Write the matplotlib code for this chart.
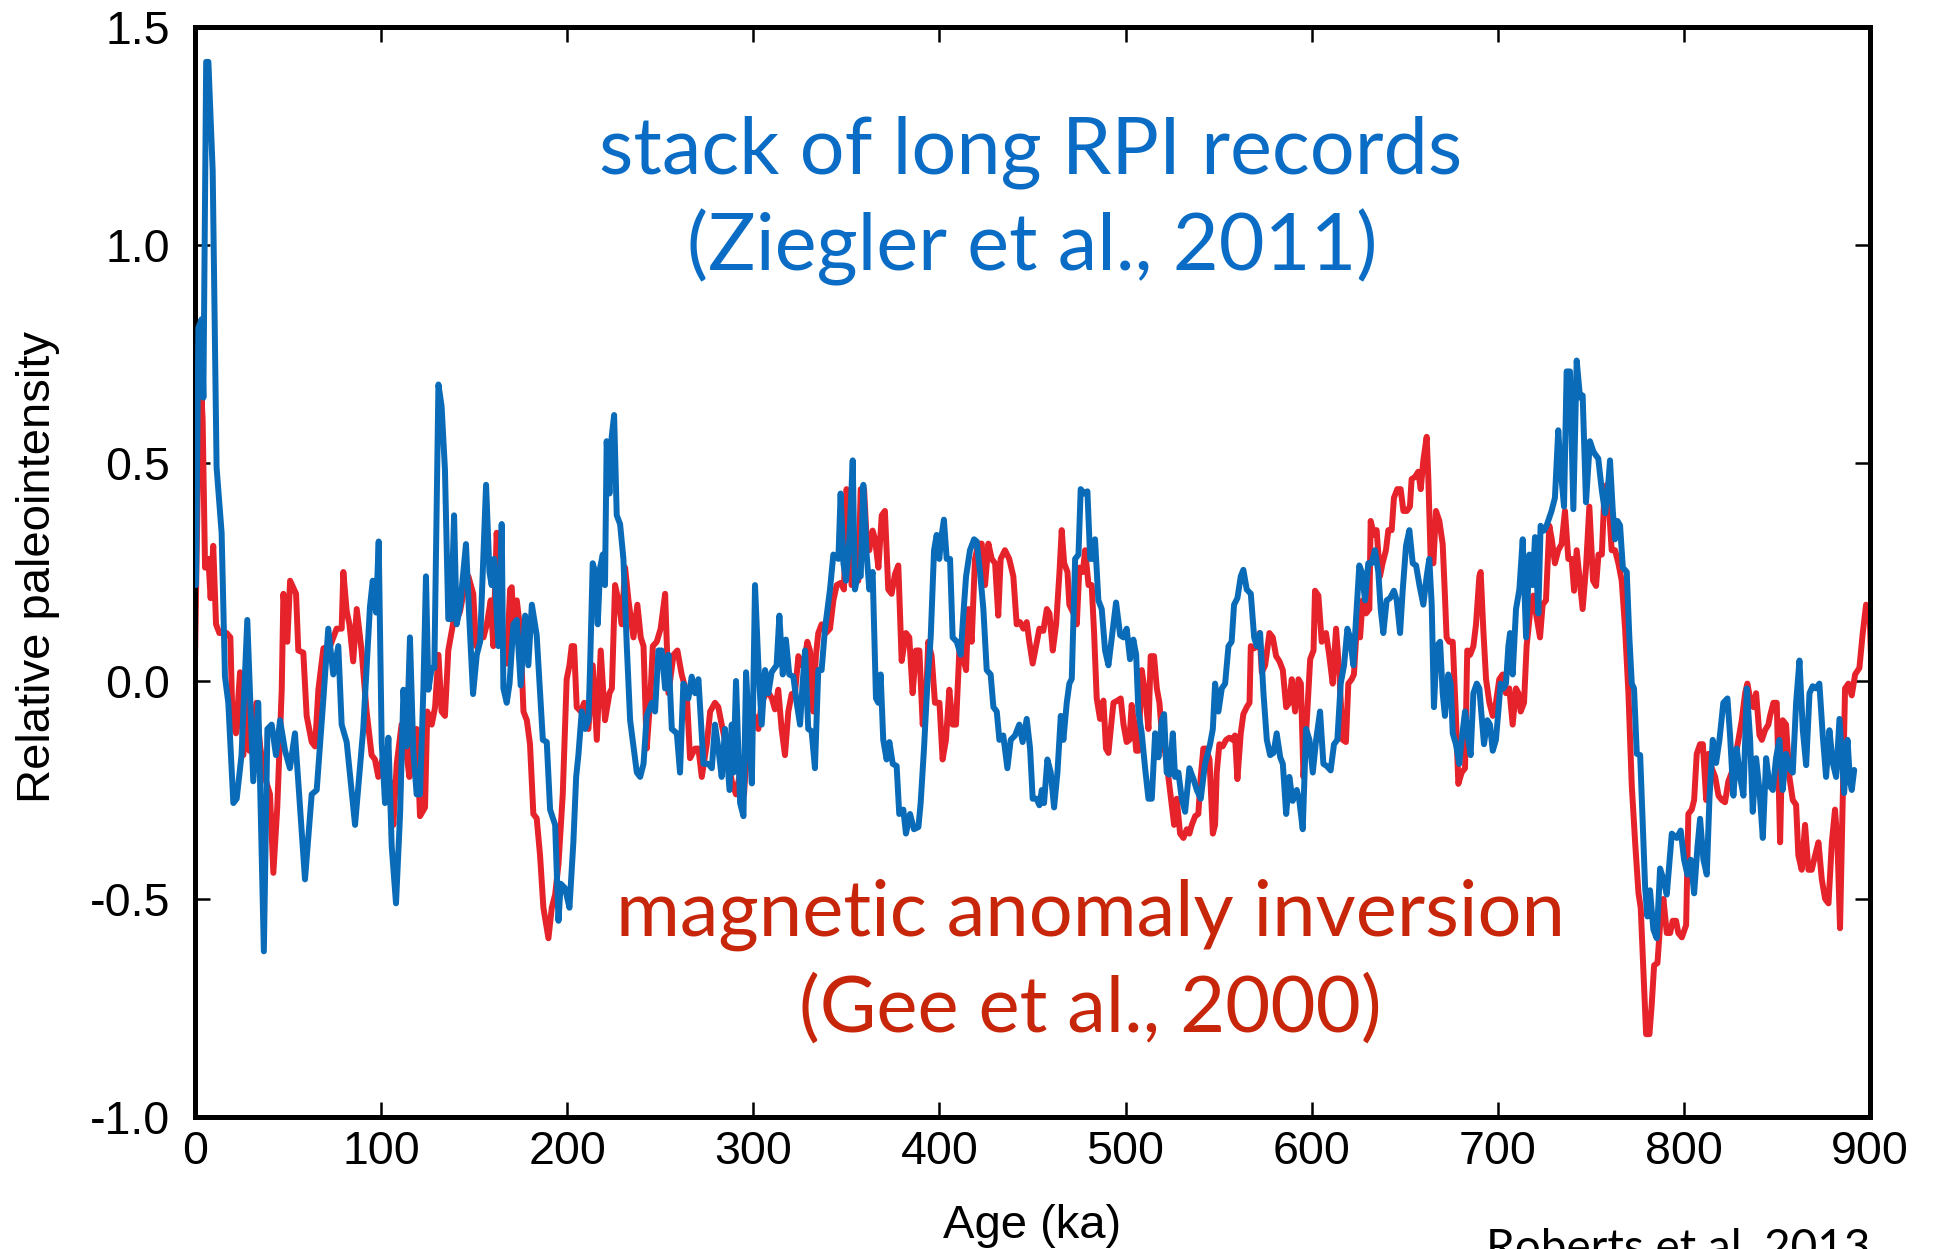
import numpy as np
import matplotlib
matplotlib.use("Agg")
import matplotlib.pyplot as plt

# Ziegler et al. (2011) stack of long RPI records: (age ka, relative paleointensity)
stack_ziegler = [
    (0.5, 0.22), (1.8, 0.81), (3.6, 0.83), (4.5, 0.65), (6.0, 1.42), (7.2, 1.42), (9.5, 1.17),
    (11.6, 0.49), (14.3, 0.34), (16.1, 0.01), (17.9, -0.05), (20.6, -0.28), (22.4, -0.27),
    (25.0, -0.17), (28.1, 0.14), (31.3, -0.23), (34.0, -0.05), (37.0, -0.62), (38.9, -0.11),
    (41.2, -0.10), (43.5, -0.17), (45.7, -0.09), (48.4, -0.16), (51.0, -0.20), (53.7, -0.12),
    (59.1, -0.455), (62.7, -0.26), (65.4, -0.25), (69.0, -0.04), (71.6, 0.12), (74.3, 0.015),
    (77.0, 0.08), (78.8, -0.10), (81.5, -0.14), (86.0, -0.33), (90.4, -0.11), (94.0, 0.17),
    (95.5, 0.23), (97.3, 0.157), (98.7, 0.32), (100.3, -0.14), (102.1, -0.28), (103.9, -0.13),
    (105.7, -0.38), (108.0, -0.51), (110.2, -0.305), (112.0, -0.02), (113.7, -0.15),
    (115.5, 0.10), (117.3, -0.16), (119.1, -0.26), (120.9, -0.26), (122.7, -0.02), (124.1, 0.24),
    (125.4, -0.02), (127.2, 0.03), (128.6, 0.03), (130.8, 0.68), (132.5, 0.63), (134.3, 0.485),
    (136.1, 0.142), (137.6, 0.142), (139.2, 0.38), (140.6, 0.13), (142.4, 0.17), (145.6, 0.314),
    (147.4, 0.142), (149.4, -0.03), (151.4, 0.06), (153.2, 0.09), (156.4, 0.45), (158.2, 0.25),
    (159.4, 0.22), (160.7, 0.28), (163.0, 0.08), (164.8, 0.36), (165.7, -0.017), (167.5, -0.05),
    (169.0, -0.006), (171.1, 0.13), (172.9, 0.14), (175.0, -0.01), (177.4, 0.15), (179.1, 0.036),
    (181.0, 0.175), (183.6, 0.105), (186.9, -0.135), (189.0, -0.14), (190.8, -0.295),
    (193.5, -0.33), (195.3, -0.55), (196.5, -0.465), (198.8, -0.475), (201.2, -0.52),
    (203.3, -0.37), (204.8, -0.22), (206.0, -0.17), (207.8, -0.07), (209.6, -0.11),
    (211.4, -0.09), (212.3, 0.036), (213.7, 0.27), (215.0, 0.25), (216.4, 0.13), (217.7, 0.26),
    (219.1, 0.29), (220.3, 0.22), (221.2, 0.55), (222.7, 0.43), (223.9, 0.56), (225.2, 0.61),
    (226.6, 0.38), (228.4, 0.36), (230.2, 0.28), (232.0, 0.08), (233.8, -0.09), (235.6, -0.15),
    (237.4, -0.21), (239.2, -0.22), (241.0, -0.19), (242.7, -0.08), (245.4, -0.05),
    (247.2, -0.07), (249.0, 0.07), (250.8, 0.07), (252.6, -0.017), (254.4, 0.06),
    (256.2, -0.11), (258.9, -0.12), (260.6, -0.21), (262.4, -0.006), (265.1, -0.04),
    (266.9, 0.01), (268.7, -0.028), (270.5, 0.004), (273.2, -0.19), (275.9, -0.19),
    (277.7, -0.20), (279.4, -0.10), (281.2, -0.155), (283.0, -0.22), (284.8, -0.11),
    (287.2, -0.25), (288.4, -0.10), (289.3, -0.21), (290.7, 0.0), (292.9, -0.28),
    (294.7, -0.31), (296.1, 0.02), (297.9, -0.135), (299.2, -0.235), (300.9, 0.22),
    (302.7, 0.036), (304.5, -0.10), (306.3, 0.025), (308.1, -0.028), (309.8, 0.02),
    (312.5, 0.036), (314.0, 0.15), (315.8, 0.015), (317.5, 0.095), (319.3, 0.015), (321.5, 0.01),
    (323.3, -0.05), (325.1, -0.10), (326.5, -0.005), (327.8, 0.07), (329.5, -0.11),
    (331.3, -0.115), (333.1, -0.20), (334.9, 0.025), (336.7, 0.025), (338.5, 0.12),
    (341.2, 0.21), (343.0, 0.29), (345.7, 0.28), (346.9, 0.43), (348.4, 0.27), (349.8, 0.23),
    (351.6, 0.325), (353.4, 0.506), (354.6, 0.21), (356.4, 0.25), (357.7, 0.24), (359.1, 0.45),
    (360.9, 0.29), (362.3, 0.21), (364.1, 0.25), (365.9, -0.04), (367.2, -0.05), (368.4, 0.015),
    (369.8, -0.135), (371.6, -0.18), (373.1, -0.14), (374.9, -0.19), (377.0, -0.195),
    (378.4, -0.305), (380.6, -0.295), (382.0, -0.35), (384.2, -0.305), (386.3, -0.34),
    (388.7, -0.335), (389.9, -0.28), (391.7, -0.155), (393.5, -0.006), (395.3, 0.10),
    (397.1, 0.30), (398.5, 0.335), (399.9, 0.28), (401.2, 0.335), (402.4, 0.37), (403.9, 0.28),
    (405.7, 0.28), (407.1, 0.10), (409.3, 0.09), (411.4, 0.06), (412.8, 0.15), (414.3, 0.24),
    (416.4, 0.30), (418.6, 0.325), (420.0, 0.32), (421.8, 0.25), (423.6, 0.165), (425.4, 0.025),
    (427.5, 0.015), (429.0, -0.06), (430.8, -0.07), (432.2, -0.135), (434.3, -0.125),
    (436.5, -0.20), (438.3, -0.135), (440.6, -0.125), (442.9, -0.10), (444.7, -0.14),
    (446.9, -0.087), (448.7, -0.155), (450.1, -0.27), (452.2, -0.27), (453.7, -0.285),
    (455.0, -0.25), (456.2, -0.28), (458.0, -0.18), (459.8, -0.21), (461.6, -0.29),
    (463.4, -0.21), (465.2, -0.08), (466.6, -0.135), (468.4, -0.05), (469.8, -0.006),
    (471.1, 0.005), (472.9, 0.28), (474.7, 0.29), (475.9, 0.44), (477.7, 0.43), (479.5, 0.435),
    (481.0, 0.28), (482.4, 0.28), (483.6, 0.325), (485.4, 0.185), (487.2, 0.165), (489.0, 0.07),
    (490.8, 0.036), (492.6, 0.10), (494.9, 0.18), (497.1, 0.105), (498.9, 0.10), (500.6, 0.12),
    (502.4, 0.05), (504.2, 0.095), (505.7, 0.06), (506.9, -0.07), (508.7, -0.12), (510.5, -0.20),
    (512.3, -0.27), (514.1, -0.27), (515.9, -0.12), (517.7, -0.175), (519.5, -0.09),
    (520.7, -0.076), (522.1, -0.21), (523.6, -0.215), (525.4, -0.12), (526.6, -0.22),
    (528.4, -0.21), (530.2, -0.27), (532.0, -0.30), (534.3, -0.20), (536.5, -0.225),
    (538.3, -0.25), (540.4, -0.27), (542.7, -0.19), (545.4, -0.145), (546.9, -0.11),
    (548.1, -0.006), (549.9, -0.07), (551.7, -0.017), (553.5, -0.006), (555.3, 0.08),
    (557.0, 0.09), (558.3, 0.175), (560.1, 0.19), (561.9, 0.24), (563.3, 0.255), (565.1, 0.21),
    (567.3, 0.20), (569.1, 0.10), (570.5, 0.08), (572.3, 0.11), (574.1, -0.028), (575.9, -0.135),
    (577.7, -0.17), (579.5, -0.165), (581.2, -0.12), (583.1, -0.175), (584.5, -0.19),
    (586.3, -0.305), (588.0, -0.22), (589.8, -0.275), (592.0, -0.25), (593.4, -0.275),
    (595.2, -0.34), (597.0, -0.11), (598.8, -0.135), (600.6, -0.21), (602.4, -0.135),
    (604.5, -0.07), (606.3, -0.19), (608.1, -0.195), (610.2, -0.205), (612.0, -0.145),
    (613.8, -0.135), (615.6, -0.006), (617.4, 0.036), (619.2, 0.12), (620.6, 0.10),
    (622.4, 0.036), (623.8, 0.14), (625.6, 0.265), (626.9, 0.25), (628.7, 0.185), (630.4, 0.27),
    (632.2, 0.27), (634.0, 0.30), (635.8, 0.25), (637.1, 0.165), (638.5, 0.11), (640.3, 0.185),
    (642.1, 0.19), (644.2, 0.207), (645.7, 0.185), (647.5, 0.11), (648.9, 0.207), (650.7, 0.31),
    (652.5, 0.346), (654.3, 0.27), (656.1, 0.265), (657.9, 0.22), (660.0, 0.175), (661.8, 0.24),
    (663.2, 0.28), (664.5, 0.175), (665.7, -0.06), (667.2, 0.08), (669.0, 0.09), (670.4, -0.028),
    (671.6, -0.08), (673.4, 0.015), (674.7, -0.006), (675.8, -0.12), (677.5, -0.145),
    (679.3, -0.19), (680.6, -0.135), (682.4, -0.07), (684.2, -0.135), (685.4, -0.17),
    (686.9, -0.028), (688.7, -0.006), (690.1, -0.017), (691.3, -0.08), (692.6, -0.145),
    (694.4, -0.09), (695.8, -0.10), (697.3, -0.16), (699.0, -0.135), (700.3, -0.07),
    (701.5, -0.006), (703.0, -0.017), (704.4, -0.006), (705.7, 0.08), (706.6, 0.11),
    (708.0, 0.015), (709.8, 0.165), (711.6, 0.21), (713.4, 0.325), (715.2, 0.10), (717.0, 0.29),
    (718.7, 0.22), (720.0, 0.33), (721.8, 0.155), (723.0, 0.356), (724.8, 0.345), (726.2, 0.356),
    (728.9, 0.39), (730.7, 0.42), (732.5, 0.575), (733.8, 0.485), (735.6, 0.40), (737.0, 0.71),
    (738.8, 0.71), (740.6, 0.394), (742.4, 0.735), (744.2, 0.65), (745.6, 0.655), (747.4, 0.41),
    (749.5, 0.55), (751.3, 0.527), (752.3, 0.52), (754.0, 0.51), (755.9, 0.437), (757.7, 0.385),
    (759.0, 0.43), (760.3, 0.506), (761.8, 0.39), (763.0, 0.325), (764.3, 0.367), (765.7, 0.357),
    (767.2, 0.26), (769.3, 0.25), (770.7, 0.10), (772.0, -0.006), (773.2, -0.017),
    (774.7, -0.167), (776.5, -0.17), (777.9, -0.327), (779.2, -0.476), (780.4, -0.54),
    (781.8, -0.48), (783.6, -0.57), (785.4, -0.59), (787.2, -0.43), (789.0, -0.455),
    (790.8, -0.49), (793.5, -0.35), (796.2, -0.36), (798.3, -0.343), (800.1, -0.41),
    (801.9, -0.444), (803.7, -0.41), (805.5, -0.487), (807.3, -0.38), (808.7, -0.316),
    (810.5, -0.41), (812.3, -0.444), (813.7, -0.273), (815.5, -0.135), (817.3, -0.188),
    (819.1, -0.135), (821.2, -0.05), (823.4, -0.04), (824.8, -0.124), (826.6, -0.263),
    (828.4, -0.155), (830.2, -0.22), (832.0, -0.263), (833.8, -0.017), (835.6, -0.135),
    (837.0, -0.30), (838.8, -0.177), (840.6, -0.25), (842.4, -0.36), (844.2, -0.177),
    (846.0, -0.24), (847.8, -0.25), (849.5, -0.177), (851.3, -0.135), (853.1, -0.25),
    (854.9, -0.167), (856.7, -0.20), (858.5, -0.21), (860.3, -0.05), (862.1, 0.047),
    (863.9, -0.113), (865.7, -0.193), (867.5, -0.028), (869.2, -0.012), (871.0, -0.017),
    (872.8, -0.006), (874.6, -0.124), (876.4, -0.22), (878.2, -0.113), (880.0, -0.188),
    (881.8, -0.22), (883.6, -0.087), (884.9, -0.177), (886.1, -0.257), (887.9, -0.135),
    (889.3, -0.23), (890.2, -0.25), (891.5, -0.204),
]

# Gee et al. (2000) magnetic anomaly inversion: (age ka, relative paleointensity)
inversion_gee = [
    (0.0, 0.05), (1.5, 0.45), (3.5, 0.65), (4.1, 0.60), (5.4, 0.26), (7.2, 0.28), (8.4, 0.19),
    (9.8, 0.31), (11.3, 0.13), (13.1, 0.11), (15.0, 0.11), (17.0, 0.11), (19.0, 0.10),
    (20.2, -0.10), (22.0, -0.12), (24.2, 0.02), (26.0, -0.17), (27.8, 0.0), (29.2, -0.16),
    (31.0, -0.12), (33.0, -0.05), (35.0, -0.15), (37.5, -0.22), (40.3, -0.26), (42.1, -0.44),
    (44.2, -0.29), (46.6, -0.02), (47.5, 0.20), (49.6, 0.09), (51.1, 0.23), (54.3, 0.20),
    (55.5, 0.07), (58.2, 0.065), (60.0, -0.08), (62.7, -0.14), (64.5, -0.15), (66.3, -0.02),
    (69.0, 0.075), (72.6, 0.08), (76.1, 0.12), (78.8, 0.12), (79.7, 0.25), (81.5, 0.16),
    (83.0, 0.13), (85.0, 0.045), (86.9, 0.165), (89.5, 0.07), (92.2, -0.07), (94.9, -0.17),
    (96.7, -0.18), (98.5, -0.22), (101.2, -0.17), (103.0, -0.25), (104.8, -0.23),
    (106.6, -0.33), (108.4, -0.19), (111.0, -0.10), (113.4, -0.16), (115.2, -0.22),
    (117.0, -0.13), (119.1, -0.11), (120.9, -0.31), (123.6, -0.29), (124.8, -0.07),
    (127.2, -0.10), (129.0, -0.06), (130.8, 0.06), (132.5, -0.07), (134.3, -0.08),
    (136.1, 0.07), (138.8, 0.135), (140.6, 0.14), (142.4, 0.16), (144.2, 0.20), (146.9, 0.24),
    (149.5, 0.20), (151.0, 0.08), (153.2, 0.12), (155.0, 0.10), (156.8, 0.13), (158.9, 0.185),
    (160.3, 0.08), (162.1, 0.34), (163.6, 0.20), (165.7, 0.07), (167.5, 0.04), (169.3, 0.21),
    (170.2, 0.215), (171.1, 0.13), (172.9, 0.185), (174.7, 0.12), (176.5, -0.07),
    (178.3, -0.09), (180.0, -0.145), (181.8, -0.305), (183.6, -0.315), (185.4, -0.40),
    (187.2, -0.52), (189.9, -0.59), (191.7, -0.52), (193.5, -0.49), (195.3, -0.42),
    (197.6, -0.26), (199.7, 0.004), (201.2, 0.036), (202.4, 0.08), (203.7, 0.08),
    (205.1, -0.06), (207.3, -0.07), (209.1, -0.05), (211.4, -0.11), (213.7, 0.036),
    (215.9, -0.135), (218.0, 0.07), (220.3, -0.09), (222.7, -0.028), (224.0, -0.017),
    (225.7, 0.22), (227.5, 0.185), (229.3, 0.13), (231.1, 0.26), (232.9, 0.185), (235.6, 0.10),
    (237.7, 0.175), (239.5, 0.10), (241.0, 0.08), (242.7, -0.155), (244.5, -0.05), (246.0, 0.08),
    (248.1, 0.09), (250.2, 0.12), (252.6, 0.20), (254.4, -0.028), (257.1, 0.06), (259.2, 0.07),
    (261.5, 0.015), (264.2, -0.028), (266.0, -0.177), (268.7, -0.155), (270.5, -0.155),
    (272.3, -0.22), (275.0, -0.145), (276.8, -0.07), (279.4, -0.05), (281.2, -0.06),
    (283.0, -0.10), (285.7, -0.155), (288.4, -0.23), (290.7, -0.26), (292.9, -0.21),
    (295.0, -0.26), (297.4, -0.10), (299.0, -0.09), (300.5, -0.08), (302.7, -0.11),
    (304.5, -0.05), (306.8, -0.028), (308.3, -0.028), (310.0, -0.04), (311.6, -0.065),
    (313.4, -0.02), (315.2, -0.11), (317.0, -0.17), (318.8, -0.07), (320.6, -0.03),
    (322.4, -0.028), (324.2, 0.057), (326.0, 0.036), (327.8, 0.057), (329.0, 0.09),
    (330.4, 0.07), (332.2, -0.07), (333.6, 0.057), (334.9, 0.11), (336.7, 0.13), (339.0, 0.11),
    (341.2, 0.12), (343.0, 0.185), (344.8, 0.22), (346.9, 0.225), (348.7, 0.21), (350.1, 0.44),
    (351.6, 0.345), (352.8, 0.22), (354.6, 0.25), (356.4, 0.23), (357.7, 0.44), (359.5, 0.44),
    (360.9, 0.325), (362.3, 0.30), (364.1, 0.345), (365.4, 0.325), (367.2, 0.26), (369.0, 0.38),
    (370.7, 0.39), (372.5, 0.21), (374.3, 0.20), (376.1, 0.245), (377.9, 0.265), (379.7, 0.046),
    (382.0, 0.11), (383.8, 0.10), (385.6, -0.028), (387.4, 0.07), (389.2, 0.07), (391.0, -0.10),
    (392.8, -0.04), (394.0, 0.09), (395.8, 0.057), (397.6, -0.05), (400.0, -0.05),
    (401.7, -0.18), (403.5, -0.135), (405.3, -0.02), (407.1, -0.10), (408.9, -0.10),
    (410.7, 0.07), (412.5, 0.057), (414.3, 0.025), (415.5, 0.165), (417.3, 0.09), (419.1, 0.28),
    (420.9, 0.315), (422.7, 0.315), (424.5, 0.22), (426.3, 0.315), (428.1, 0.28), (429.9, 0.27),
    (431.6, 0.15), (432.9, 0.28), (435.2, 0.30), (437.5, 0.28), (439.7, 0.24), (441.5, 0.13),
    (443.3, 0.135), (445.1, 0.12), (446.9, 0.135), (448.3, 0.09), (450.1, 0.04), (451.9, 0.08),
    (453.7, 0.12), (455.8, 0.115), (457.7, 0.165), (459.1, 0.155), (460.9, 0.07), (462.7, 0.13),
    (464.5, 0.25), (465.7, 0.346), (467.0, 0.27), (468.8, 0.25), (469.8, 0.175), (472.0, 0.155),
    (473.8, 0.13), (475.2, 0.26), (477.0, 0.25), (478.3, 0.30), (480.1, 0.22), (481.8, 0.22),
    (483.1, 0.11), (484.5, -0.04), (486.3, -0.087), (488.1, -0.045), (489.5, -0.155),
    (490.8, -0.165), (492.1, -0.108), (493.5, -0.05), (495.6, -0.045), (497.4, -0.04),
    (498.9, -0.10), (500.6, -0.14), (502.1, -0.135), (503.3, -0.055), (504.6, -0.10),
    (505.7, -0.16), (506.9, -0.16), (508.7, 0.025), (510.5, -0.028), (512.3, -0.11),
    (513.5, 0.057), (515.3, 0.057), (516.8, -0.017), (518.2, -0.05), (519.5, -0.12),
    (521.3, -0.165), (523.0, -0.22), (524.8, -0.285), (526.1, -0.33), (527.5, -0.27),
    (529.3, -0.35), (531.1, -0.36), (532.9, -0.34), (534.3, -0.35), (535.6, -0.33),
    (537.4, -0.31), (539.1, -0.305), (540.4, -0.22), (541.8, -0.155), (543.3, -0.155),
    (545.1, -0.18), (546.9, -0.35), (548.1, -0.33), (549.0, -0.21), (550.4, -0.145),
    (552.2, -0.15), (554.0, -0.135), (555.8, -0.13), (557.6, -0.135), (558.8, -0.125),
    (560.1, -0.225), (561.9, -0.12), (563.3, -0.076), (565.1, -0.06), (566.6, -0.05),
    (567.3, 0.08), (569.1, 0.075), (570.9, 0.08), (572.0, 0.11), (573.2, 0.02), (575.0, 0.036),
    (577.3, 0.11), (579.1, 0.10), (580.9, 0.057), (582.7, 0.045), (584.5, 0.025), (586.3, -0.06),
    (588.0, -0.05), (589.3, 0.004), (591.1, -0.07), (592.9, 0.004), (594.2, -0.006),
    (595.6, -0.22), (597.4, -0.09), (599.2, 0.05), (601.0, 0.07), (601.8, 0.207), (603.6, 0.196),
    (605.4, 0.09), (607.7, 0.11), (609.5, 0.057), (611.3, -0.006), (613.1, 0.12), (614.9, 0.015),
    (616.7, -0.135), (618.4, -0.14), (619.7, -0.006), (621.5, 0.004), (622.7, 0.015),
    (624.2, 0.12), (626.0, 0.10), (627.4, 0.185), (629.2, 0.155), (631.0, 0.165), (631.7, 0.367),
    (633.5, 0.335), (634.9, 0.346), (636.7, 0.24), (638.1, 0.27), (639.9, 0.30), (641.2, 0.346),
    (643.0, 0.346), (644.2, 0.42), (646.0, 0.44), (647.8, 0.44), (649.3, 0.39), (651.1, 0.39),
    (652.8, 0.40), (653.7, 0.463), (655.5, 0.468), (657.3, 0.48), (658.6, 0.44), (660.0, 0.506),
    (661.8, 0.56), (662.7, 0.463), (664.0, 0.27), (665.4, 0.27), (666.8, 0.39), (668.6, 0.367),
    (670.4, 0.314), (671.6, 0.196), (672.5, 0.10), (673.9, 0.09), (675.8, 0.09), (677.5, -0.08),
    (678.8, -0.236), (680.6, -0.21), (682.4, -0.20), (683.6, 0.07), (685.1, 0.06), (686.9, 0.08),
    (688.3, 0.13), (690.1, 0.24), (690.8, 0.25), (692.2, 0.12), (693.7, 0.004), (695.5, -0.05),
    (697.3, -0.08), (699.0, -0.05), (700.8, 0.004), (702.6, 0.015), (704.4, -0.028),
    (706.2, -0.017), (708.0, -0.10), (709.8, -0.017), (711.1, -0.028), (712.3, -0.07),
    (714.1, -0.05), (715.5, 0.08), (717.3, 0.155), (719.1, 0.196), (720.9, 0.145), (722.7, 0.10),
    (724.1, 0.175), (725.9, 0.185), (727.7, 0.356), (729.0, 0.325), (730.7, 0.27), (732.5, 0.30),
    (734.3, 0.314), (736.1, 0.39), (737.9, 0.28), (739.7, 0.28), (741.0, 0.207), (742.4, 0.30),
    (743.8, 0.24), (745.6, 0.165), (747.4, 0.26), (749.2, 0.40), (751.2, 0.23), (752.8, 0.218),
    (754.1, 0.29), (755.9, 0.29), (757.1, 0.41), (758.6, 0.45), (760.0, 0.38), (761.2, 0.30),
    (763.0, 0.30), (764.8, 0.27), (766.6, 0.23), (768.4, 0.12), (770.2, -0.028), (772.0, -0.24),
    (773.8, -0.37), (775.6, -0.487), (776.8, -0.52), (778.3, -0.668), (779.7, -0.81),
    (781.5, -0.81), (782.7, -0.743), (784.0, -0.652), (785.8, -0.647), (787.2, -0.56),
    (789.0, -0.50), (790.8, -0.578), (792.6, -0.578), (794.0, -0.55), (795.8, -0.55),
    (797.0, -0.578), (798.9, -0.588), (801.2, -0.56), (802.4, -0.305), (804.2, -0.295),
    (805.5, -0.273), (806.9, -0.167), (808.7, -0.145), (810.2, -0.145), (812.0, -0.273),
    (813.2, -0.167), (815.0, -0.20), (816.8, -0.22), (818.6, -0.263), (820.4, -0.273),
    (822.1, -0.278), (823.9, -0.23), (825.7, -0.21), (827.5, -0.177), (829.3, -0.135),
    (831.1, -0.09), (832.9, -0.028), (834.1, -0.006), (835.6, -0.04), (837.4, -0.06),
    (838.8, -0.028), (840.6, -0.124), (841.9, -0.135), (843.6, -0.113), (845.4, -0.10),
    (846.3, -0.08), (848.1, -0.05), (849.9, -0.05), (851.7, -0.37), (853.1, -0.09),
    (854.9, -0.10), (856.7, -0.22), (858.5, -0.273), (860.3, -0.284), (861.5, -0.40),
    (863.3, -0.433), (865.1, -0.33), (866.9, -0.433), (868.7, -0.433), (870.5, -0.40),
    (872.3, -0.37), (874.1, -0.455), (875.9, -0.50), (877.7, -0.51), (879.5, -0.37),
    (881.2, -0.295), (882.5, -0.37), (883.9, -0.567), (885.4, -0.263), (886.6, -0.017),
    (888.4, -0.006), (890.2, -0.033), (892.0, 0.015), (894.3, 0.03), (896.1, 0.11),
    (897.9, 0.175), (899.7, 0.164), (901.0, 0.0),
]

x_ticks = [0, 100, 200, 300, 400, 500, 600, 700, 800, 900]
y_ticks = [-1.0, -0.5, 0.0, 0.5, 1.0, 1.5]
y_tick_labels = ["-1.0", "-0.5", "0.0", "0.5", "1.0", "1.5"]

BLUE = "#0A6BB8"
RED = "#E6222B"
TEXT_BLUE = "#0A6CC4"
TEXT_RED = "#C8260A"

stack_age, stack_rpi = np.array(stack_ziegler).T
gee_age, gee_rpi = np.array(inversion_gee).T

W, H = 1936, 1249
fig = plt.figure(figsize=(W / 100, H / 100), dpi=100)
ax = fig.add_axes([195 / W, 1 - 1117 / H, (1870 - 195) / W, (1117 - 27) / H])

ax.plot(gee_age, gee_rpi, color=RED, lw=4.3, solid_joinstyle="round",
        solid_capstyle="round", zorder=2)
ax.plot(stack_age, stack_rpi, color=BLUE, lw=4.3, solid_joinstyle="round",
        solid_capstyle="round", zorder=3)

ax.set_xlim(0, 900)
ax.set_ylim(-1.0, 1.5)
ax.set_xticks(x_ticks)
ax.set_yticks(y_ticks)
ax.set_yticklabels(y_tick_labels)

for lab in ax.get_xticklabels() + ax.get_yticklabels():
    lab.set_fontfamily("Liberation Sans")
    lab.set_fontsize(33.5)

ax.tick_params(direction="in", length=11, width=1.8, top=True, right=True,
               color="black", labelcolor="black")
ax.tick_params(axis="x", pad=9)
ax.tick_params(axis="y", pad=18)
for sp in ax.spines.values():
    sp.set_linewidth(3.6)
    sp.set_color("black")

label_font = {"family": "Liberation Sans", "size": 34}
ax.set_xlabel("Age (ka)", fontdict=label_font, va="baseline")
ax.xaxis.set_label_coords(0.5, (1117 - 1238) / 1090)
ax.set_ylabel("Relative paleointensity", fontdict=label_font, va="baseline")
ax.yaxis.set_label_coords((50 - 195) / 1675, 0.505)

title_font = "Lato"
fig.text(1031 / W, 1 - 173 / H, "stack of long RPI records", ha="center", va="baseline",
         fontsize=57, color=TEXT_BLUE, family=title_font)
fig.text(1032 / W, 1 - 270 / H, "(Ziegler et al., 2011)", ha="center", va="baseline",
         fontsize=57, color=TEXT_BLUE, family=title_font)
fig.text(1091 / W, 1 - 936 / H, "magnetic anomaly inversion", ha="center", va="baseline",
         fontsize=56, color=TEXT_RED, family=title_font)
fig.text(1090 / W, 1 - 1032 / H, "(Gee et al., 2000)", ha="center", va="baseline",
         fontsize=56, color=TEXT_RED, family=title_font)
fig.text(1870 / W, 1 - 1262 / H, "Roberts et al. 2013", ha="right", va="baseline",
         fontsize=33, color="black", family=title_font)

fig.savefig("out.png", dpi=100, facecolor="white")
